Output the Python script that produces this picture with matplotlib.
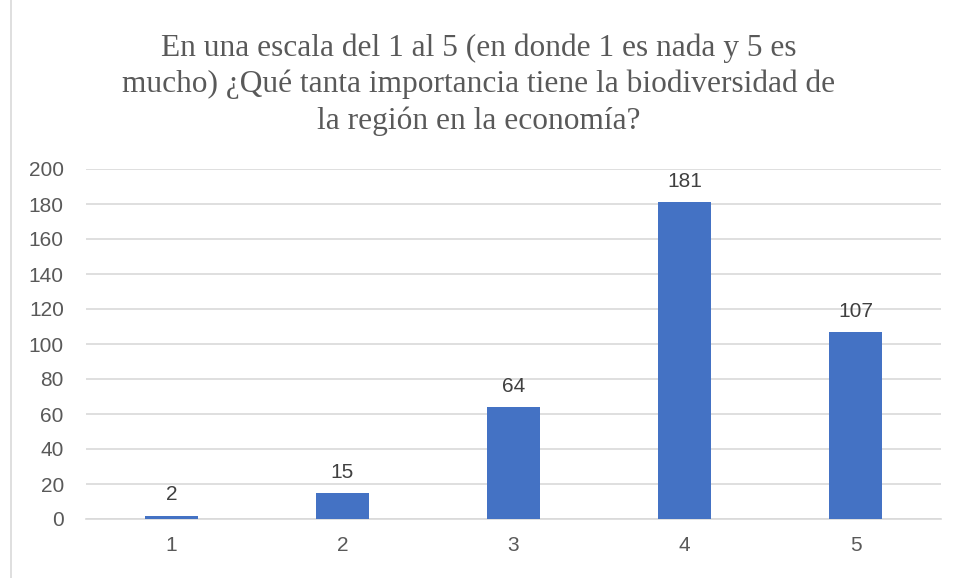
import matplotlib
matplotlib.use("Agg")
import matplotlib.pyplot as plt
from matplotlib.lines import Line2D

categories = ["1", "2", "3", "4", "5"]
values = [2, 15, 64, 181, 107]
yticks = [0, 20, 40, 60, 80, 100, 120, 140, 160, 180, 200]
title = ("En una escala del 1 al 5 (en donde 1 es nada y 5 es\n"
         "mucho) ¿Qué tanta importancia tiene la biodiversidad de\n"
         "la región en la economía?")

fig = plt.figure(figsize=(9.57, 5.78), dpi=100)
ax = fig.add_axes([86/957, 59/578, 855/957, 350/578])

x = list(range(len(categories)))
bars = ax.bar(x, values, width=0.31, color="#4472C4", zorder=3)
for xi, v in zip(x, values):
    ax.annotate(str(v), (xi, v), xytext=(0, 8), textcoords="offset points",
                ha="center", va="bottom", fontsize=15, color="#404040",
                family="Liberation Sans")

ax.set_xlim(-0.5, len(categories) - 0.5)
ax.set_ylim(0, 200)
ax.set_yticks(yticks)
ax.set_xticks(x)
ax.set_xticklabels(categories)
ax.grid(axis="y", color="#D9D9D9", linewidth=1.2, zorder=0)
for s in ax.spines.values():
    s.set_visible(False)
ax.spines["bottom"].set_visible(True)
ax.spines["bottom"].set_color("#D9D9D9")
ax.spines["bottom"].set_linewidth(1.2)
ax.tick_params(length=0, labelsize=15, labelcolor="#595959")
for lab in ax.get_xticklabels() + ax.get_yticklabels():
    lab.set_family("Liberation Sans")
ax.tick_params(axis="y", pad=16)
ax.tick_params(axis="x", pad=12)

fig.text(0.5, 1 - 84.5/578, title, ha="center", va="center",
         fontsize=22.6, color="#595959", family="Liberation Serif",
         linespacing=1.3)

fig.add_artist(Line2D([10.5/957, 10.5/957], [0, 1], transform=fig.transFigure,
                      color="#D9D9D9", linewidth=1.2))

fig.savefig("out.png", dpi=100)
